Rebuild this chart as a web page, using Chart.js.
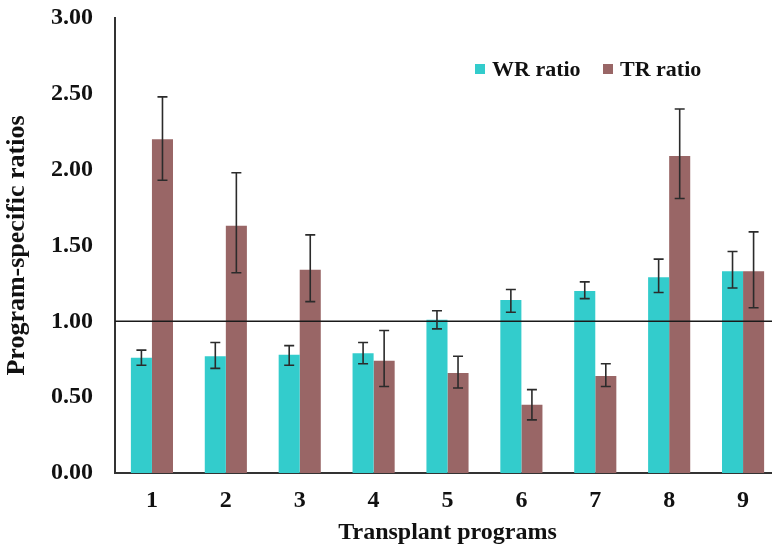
<!DOCTYPE html>
<html>
<head>
<meta charset="utf-8">
<script src="https://cdn.jsdelivr.net/npm/chart.js@4"></script>
<style>
  html, body { margin: 0; padding: 0; background: #fff; overflow: hidden; }
  .wrap { position: relative; width: 780px; height: 551px; }
</style>
</head>
<body>
<div class="wrap"><canvas id="ratio-chart"></canvas></div>
<script>
// programs on the x axis
const programs = ["1", "2", "3", "4", "5", "6", "7", "8", "9"];

// WR ratio, with the ends of its error bars
const wrRatio = [0.76, 0.77, 0.78, 0.79, 1.01, 1.14, 1.20, 1.29, 1.33];
const wrLow = [0.71, 0.69, 0.71, 0.72, 0.95, 1.06, 1.15, 1.19, 1.22];
const wrHigh = [0.81, 0.86, 0.84, 0.86, 1.07, 1.21, 1.26, 1.41, 1.46];

// TR ratio, with the ends of its error bars
const trRatio = [2.20, 1.63, 1.34, 0.74, 0.66, 0.45, 0.64, 2.09, 1.33];
const trLow = [1.93, 1.32, 1.13, 0.57, 0.56, 0.35, 0.57, 1.81, 1.09];
const trHigh = [2.48, 1.98, 1.57, 0.94, 0.77, 0.55, 0.72, 2.40, 1.59];

// y axis ticks and the reference line
const yTicks = [0, 0.5, 1, 1.5, 2, 2.5, 3];
const refLine = 1.0;

const serif = "'Liberation Serif', 'Times New Roman', serif";

/* error bars drawn through the scales */
const errorBars = {
  id: "errorBars",
  afterDatasetsDraw(chart) {
    const ctx = chart.ctx;
    const y = chart.scales.y;
    const ranges = [[wrLow, wrHigh], [trLow, trHigh]];
    ctx.save();
    ctx.strokeStyle = "#2b2b2b";
    ctx.lineWidth = 1.6;
    ranges.forEach((r, d) => {
      chart.getDatasetMeta(d).data.forEach((bar, i) => {
        const x = bar.x;
        const top = y.getPixelForValue(r[1][i]);
        const bot = y.getPixelForValue(r[0][i]);
        ctx.beginPath();
        ctx.moveTo(x, top); ctx.lineTo(x, bot);
        ctx.moveTo(x - 5, top); ctx.lineTo(x + 5, top);
        ctx.moveTo(x - 5, bot); ctx.lineTo(x + 5, bot);
        ctx.stroke();
      });
    });
    ctx.restore();
  },
};

/* horizontal line at 1.00 */
const oneLine = {
  id: "oneLine",
  afterDatasetsDraw(chart) {
    const ctx = chart.ctx;
    const a = chart.chartArea;
    const py = chart.scales.y.getPixelForValue(refLine);
    ctx.save();
    ctx.strokeStyle = "#1a1a1a";
    ctx.lineWidth = 1.5;
    ctx.beginPath();
    ctx.moveTo(a.left, py);
    ctx.lineTo(a.right, py);
    ctx.stroke();
    ctx.restore();
  },
};

/* legend inside the plot, top right */
const innerLegend = {
  id: "innerLegend",
  afterDraw(chart) {
    const ctx = chart.ctx;
    const items = chart.data.datasets;
    let x = 475;
    const yMid = 70;
    ctx.save();
    ctx.font = "bold 22px " + serif;
    ctx.textBaseline = "middle";
    items.forEach((ds) => {
      ctx.fillStyle = ds.backgroundColor;
      ctx.fillRect(x, yMid - 6, 10, 10);
      ctx.fillStyle = "#111";
      ctx.fillText(ds.label, x + 17, yMid);
      x += 128;
    });
    ctx.restore();
  },
};

new Chart(document.getElementById("ratio-chart"), {
  type: "bar",
  data: {
    labels: programs,
    datasets: [
      { label: "WR ratio", data: wrRatio, backgroundColor: "#33cccc" },
      { label: "TR ratio", data: trRatio, backgroundColor: "#996666" },
    ],
  },
  options: {
    responsive: true,
    maintainAspectRatio: false,
    animation: false,
    layout: { padding: { top: 18, right: 0, left: 0, bottom: 0 } },
    datasets: { bar: { categoryPercentage: 0.57, barPercentage: 1 } },
    plugins: {
      legend: { display: false },
      tooltip: { enabled: false },
    },
    scales: {
      x: {
        grid: { display: false, drawTicks: false },
        border: { display: true, color: "#333", width: 2 },
        ticks: { color: "#111", padding: 13, font: { family: serif, size: 24, weight: "bold" } },
        title: {
          display: true,
          text: "Transplant programs",
          color: "#111",
          font: { family: serif, size: 24, weight: "bold" },
        },
        afterFit(scale) {
          scale.height = 78;
          scale.paddingLeft = 0;
          scale.paddingRight = 0;
        },
      },
      y: {
        min: 0,
        max: 3,
        afterBuildTicks(scale) { scale.ticks = yTicks.map((v) => ({ value: v })); },
        grid: { display: false, drawTicks: false },
        border: { display: true, color: "#333", width: 2 },
        ticks: {
          color: "#111",
          padding: 22,
          font: { family: serif, size: 24, weight: "bold" },
          callback: (v) => Number(v).toFixed(2),
        },
        title: {
          display: true,
          text: "Program-specific ratios",
          color: "#111",
          padding: { top: 2, bottom: 4 },
          font: { family: serif, size: 26, weight: "bold" },
        },
        afterFit(scale) {
          scale.width = 115;
          scale.paddingTop = 0;
          scale.paddingBottom = 0;
        },
      },
    },
  },
  plugins: [oneLine, errorBars, innerLegend],
});
</script>
</body>
</html>
